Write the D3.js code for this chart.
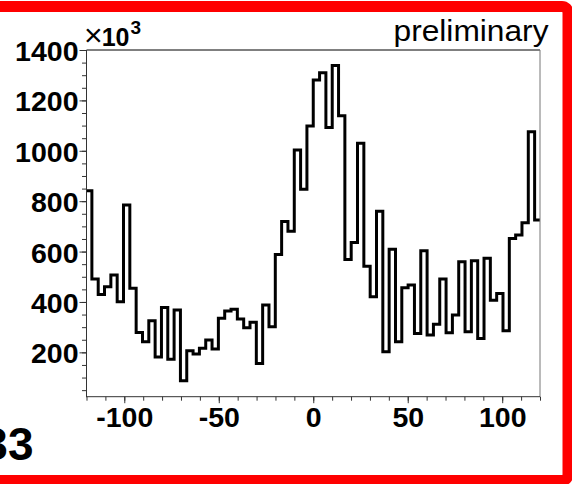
<!DOCTYPE html>
<html>
<head>
<meta charset="utf-8">
<script src="https://cdn.jsdelivr.net/npm/d3@7"></script>
<style>
  html, body { margin: 0; padding: 0; background: #fff; }
  svg { display: block; }
  text { font-family: "Liberation Sans", Arial, Helvetica, sans-serif; }
</style>
</head>
<body>
<svg id="chart" width="572" height="484"></svg>
<script>
// Histogram binning: 72 bins spanning -120.5 .. 120.5
const binLow = -120.5;
const binHigh = 120.5;

// Bin contents (in units of 10^3), left to right
const counts = [
  841, 491, 430, 460, 507, 401, 785, 454, 279, 242,
  325, 182, 378, 173, 368, 87, 206, 193, 216, 249,
  213, 335, 364, 371, 332, 298, 319, 156, 388, 302,
  588, 719, 681, 1003, 847, 1098, 1281, 1310, 1092, 1338,
  1139, 569, 636, 1030, 542, 421, 760, 202, 609, 242,
  456, 467, 275, 603, 269, 312, 491, 278, 348, 560,
  282, 564, 255, 573, 407, 434, 286, 652, 666, 714,
  1076, 725
];

// Axis ranges and ticks
const xDomain = [-120, 120];
const yDomain = [24, 1400];
const xMajorTicks = [-100, -50, 0, 50, 100];
const xMinorTicks = d3.range(-120, 121, 10);
const yMajorTicks = [200, 400, 600, 800, 1000, 1200, 1400];
const yMinorTicks = d3.range(50, 1401, 50);

const exponentLabel = "3";
const stampText = "preliminary";
const cornerText = "33";

const svg = d3.select("#chart");
const frame = { left: 86.5, right: 540, top: 50, bottom: 396.7 };

const x = d3.scaleLinear().domain(xDomain).range([frame.left, frame.right]);
const y = d3.scaleLinear().domain(yDomain).range([frame.bottom, frame.top]);

// Red slide border (left edge runs off the page)
svg.append("rect")
  .attr("x", -40).attr("y", 6.5)
  .attr("width", 608).attr("height", 474)
  .attr("rx", 6).attr("ry", 6)
  .attr("fill", "none")
  .attr("stroke", "#ff0000")
  .attr("stroke-width", 11);

// Clip region for the histogram
svg.append("clipPath").attr("id", "plotClip")
  .append("rect")
  .attr("x", frame.left).attr("y", frame.top)
  .attr("width", frame.right - frame.left)
  .attr("height", frame.bottom - frame.top);

// Histogram outline
const binWidth = (binHigh - binLow) / counts.length;
const steps = counts.map((c, i) => [binLow + i * binWidth, c]);
steps.push([binHigh, counts[counts.length - 1]]);

const stepLine = d3.line()
  .x(d => x(d[0]))
  .y(d => y(d[1]))
  .curve(d3.curveStepAfter);

svg.append("path")
  .attr("clip-path", "url(#plotClip)")
  .attr("d", stepLine(steps))
  .attr("fill", "none")
  .attr("stroke", "#000")
  .attr("stroke-width", 3)
  .attr("stroke-linejoin", "miter");

// Frame: top and right edges
svg.append("line")
  .attr("x1", frame.left).attr("x2", frame.right)
  .attr("y1", frame.top).attr("y2", frame.top)
  .attr("stroke", "#000").attr("stroke-width", 1);
svg.append("line")
  .attr("x1", frame.right).attr("x2", frame.right)
  .attr("y1", frame.top).attr("y2", frame.bottom)
  .attr("stroke", "#777").attr("stroke-width", 1);

// Y axis: minor ticks, then major ticks with labels
const yAxisMinor = d3.axisLeft(y).tickValues(yMinorTicks).tickSize(4.5).tickFormat("");
const yAxisMajor = d3.axisLeft(y).tickValues(yMajorTicks).tickSize(7).tickPadding(1).tickFormat(d3.format("d"));

const gyMinor = svg.append("g").attr("transform", `translate(${frame.left},0)`).call(yAxisMinor);
gyMinor.select(".domain").remove();
const gy = svg.append("g").attr("transform", `translate(${frame.left},0)`).call(yAxisMajor);
gy.select(".domain").remove();
gy.selectAll("text")
  .attr("font-size", 28.5).attr("font-weight", "bold")
  .attr("fill", "#000")
  .attr("dy", "0.37em");

// X axis: minor ticks, then major ticks with labels
const xAxisMinor = d3.axisBottom(x).tickValues(xMinorTicks).tickSize(4).tickFormat("");
const xAxisMajor = d3.axisBottom(x).tickValues(xMajorTicks).tickSize(6.5).tickPadding(3).tickFormat(d3.format("d"));

const gxMinor = svg.append("g").attr("transform", `translate(0,${frame.bottom})`).call(xAxisMinor);
gxMinor.select(".domain").remove();
const gx = svg.append("g").attr("transform", `translate(0,${frame.bottom})`).call(xAxisMajor);
gx.select(".domain").remove();
gx.selectAll("text")
  .attr("font-size", 28.5).attr("font-weight", "bold")
  .attr("fill", "#000")
  .attr("dy", "0.72em")
  .text(d => d < 0 ? "-" + Math.abs(d) : String(d));

svg.selectAll(".tick line").attr("stroke", "#333").attr("stroke-width", 1);

// Axis lines
svg.append("line")
  .attr("x1", frame.left).attr("x2", frame.left)
  .attr("y1", frame.top).attr("y2", frame.bottom + 0.5)
  .attr("stroke", "#333").attr("stroke-width", 1);
svg.append("line")
  .attr("x1", frame.left).attr("x2", frame.right)
  .attr("y1", frame.bottom).attr("y2", frame.bottom)
  .attr("stroke", "#333").attr("stroke-width", 1);

// Exponent label above the y axis
const expo = svg.append("text")
  .attr("x", 84).attr("y", 46)
  .attr("fill", "#000");
expo.append("tspan").attr("font-size", 32).text("\u00d7");
expo.append("tspan").attr("font-size", 25).attr("font-weight", "bold").attr("dx", -1).text("10");
expo.append("tspan").attr("font-size", 19).attr("font-weight", "bold").attr("dy", -12).attr("dx", 1).text(exponentLabel);

// Stamp at top right
svg.append("text")
  .attr("x", 548.5).attr("y", 41)
  .attr("text-anchor", "end")
  .attr("font-size", 29)
  .attr("textLength", 155)
  .attr("lengthAdjust", "spacingAndGlyphs")
  .attr("fill", "#000")
  .text(stampText);

// Page number at bottom left (runs off the page)
svg.append("text")
  .attr("x", 33.5).attr("y", 460)
  .attr("text-anchor", "end")
  .attr("font-size", 46).attr("font-weight", "bold")
  .attr("fill", "#000")
  .text(cornerText);
</script>
</body>
</html>
